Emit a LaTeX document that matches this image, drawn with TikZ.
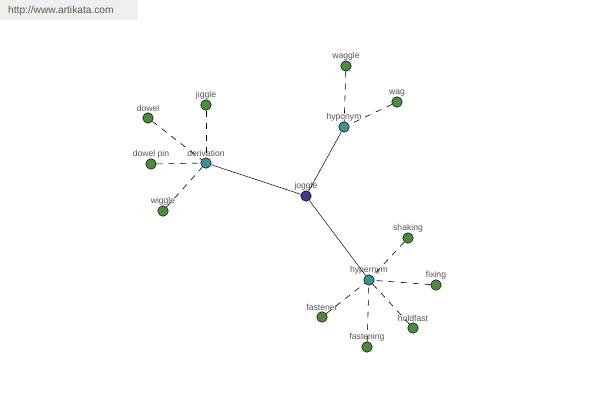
\documentclass[tikz,border=0pt]{standalone}
\usepackage{fontspec}
\setmainfont{Liberation Sans}
\begin{document}
\begin{tikzpicture}[x=1pt,y=-1pt,
  dot/.style={circle,draw=black,line width=0.5pt,minimum size=10.5pt,inner sep=0pt,
    label={[lbl]above:#1}},
  leaf/.style={dot=#1,fill=leafc},
  hub/.style={dot=#1,fill=hubc},
  root/.style={dot=#1,fill=rootc},
  lbl/.style={text=lblc,font=\fontsize{8.6}{9}\selectfont,inner sep=0pt,label distance=0.5pt},
  solidc/.style={draw=black,line width=0.5pt},
  dashc/.style={draw=black,line width=0.6pt,dash pattern=on 6pt off 6pt}]
\definecolor{leafc}{HTML}{4E8A3E}
\definecolor{hubc}{HTML}{3F9090}
\definecolor{rootc}{HTML}{3C3C8C}
\definecolor{lblc}{HTML}{555555}
\definecolor{wmbg}{HTML}{EFEFEF}
\definecolor{wmtext}{HTML}{4F5F45}
\useasboundingbox (0,0) rectangle (600,400);
\fill[white] (0,0) rectangle (600,400);
\fill[wmbg] (0,0) rectangle (138,20);
\node[text=wmtext,font=\fontsize{10.2}{11}\selectfont,anchor=west,inner sep=0pt] (wm) at (8,10.5) {http://www.artikata.com};
% nodes
\node[root=joggle] (joggle) at (306,196) {};
\node[hub=derivation] (derivation) at (206,163) {};
\node[hub=hyponym] (hyponym) at (344,127) {};
\node[hub=hypernym] (hypernym) at (369,280) {};
\node[leaf=jiggle] (jiggle) at (206,105) {};
\node[leaf=dowel] (dowel) at (148,118) {};
\node[leaf=dowel pin] (dowelpin) at (151,164) {};
\node[leaf=wiggle] (wiggle) at (163,211) {};
\node[leaf=waggle] (waggle) at (346,66) {};
\node[leaf=wag] (wag) at (397,102) {};
\node[leaf=shaking] (shaking) at (408,238) {};
\node[leaf=fixing] (fixing) at (436,285) {};
\node[leaf=fastener] (fastener) at (322,317) {};
\node[leaf=holdfast] (holdfast) at (413,328) {};
\node[leaf=fastening] (fastening) at (367,347) {};
% edges
\draw[solidc] (joggle) -- (derivation);
\draw[solidc] (joggle) -- (hyponym);
\draw[solidc] (joggle) -- (hypernym);
\foreach \a in {jiggle,dowel,dowelpin,wiggle} \draw[dashc] (\a) -- (derivation);
\foreach \a in {waggle,wag} \draw[dashc] (\a) -- (hyponym);
\foreach \a in {shaking,fixing,fastener,holdfast,fastening} \draw[dashc] (\a) -- (hypernym);
\end{tikzpicture}
\end{document}
